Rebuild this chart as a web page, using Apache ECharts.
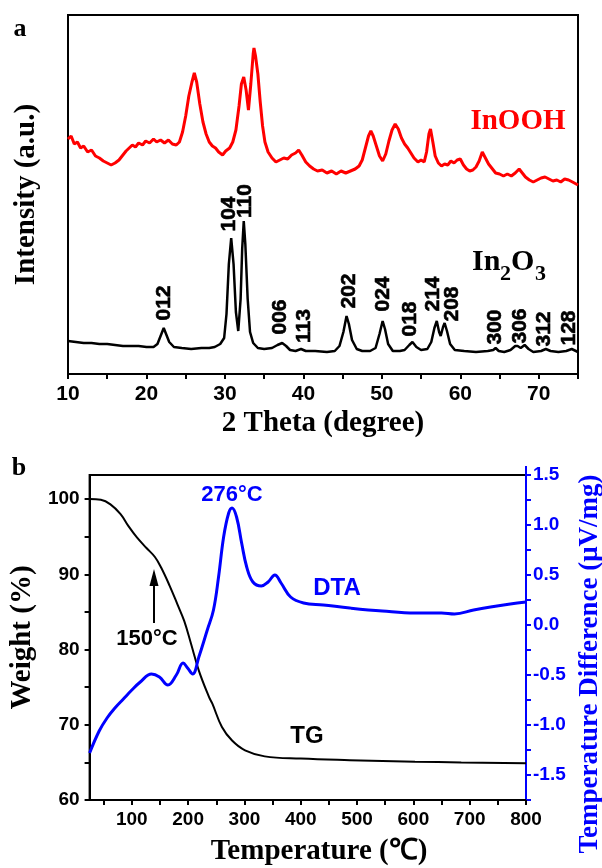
<!DOCTYPE html>
<html>
<head>
<meta charset="utf-8">
<title>XRD and TG-DTA</title>
<script src="https://cdn.jsdelivr.net/npm/echarts@6/dist/echarts.min.js"></script>
<style>
html,body{margin:0;padding:0;background:#fff;}
#main{width:602px;height:868px;}
</style>
</head>
<body>
<div id="main"></div>
<script>
// panel a - XRD (intensity in arbitrary units)
var inoohTheta=[10.0,10.4,10.8,11.2,11.6,12.0,12.5,13.0,13.5,14.0,14.5,15.0,15.5,16.0,16.5,17.0,17.4,17.8,18.2,18.6,19.0,19.5,19.9,20.4,20.9,21.3,21.8,22.3,22.8,23.3,23.8,24.2,24.6,25.0,25.4,25.8,26.1,26.4,26.8,27.2,27.6,28.0,28.4,28.8,29.2,29.7,30.1,30.6,31.0,31.4,31.8,32.1,32.4,32.7,33.0,33.3,33.6,33.7,33.9,34.2,34.5,34.8,35.1,35.5,36.0,36.5,37.0,37.5,38.0,38.5,39.0,39.4,39.8,40.3,40.8,41.3,41.8,42.4,43.0,43.6,44.2,44.8,45.4,46.0,46.6,47.1,47.5,47.9,48.3,48.6,48.9,49.3,49.7,50.1,50.5,50.9,51.3,51.7,52.1,52.5,52.9,53.3,53.7,54.1,54.6,55.0,55.4,55.7,56.0,56.2,56.5,56.8,57.2,57.6,58.0,58.4,58.8,59.2,59.6,60.0,60.4,60.8,61.2,61.6,62.0,62.4,62.8,63.2,63.6,64.0,64.5,65.0,65.5,66.0,66.5,67.0,67.5,67.9,68.3,68.8,69.3,69.8,70.3,70.8,71.3,71.8,72.3,72.8,73.3,73.8,74.3,75.0];
var inoohIntensity=[235,238,230,232,226,228,222,224,218,216,213,211,209,211,214,219,223,226,229,227,231,229,233,231,235,232,234,231,234,230,229,232,242,258,278,292,301,292,270,252,240,232,228,226,222,219,223,226,232,244,268,290,297,284,264,290,320,326,318,300,272,248,232,222,216,212,214,216,215,219,221,224,219,212,208,205,203,204,201,203,200,203,201,203,205,208,214,226,238,243,238,228,218,213,220,233,244,250,245,236,230,226,221,216,212,214,212,222,240,245,232,218,211,208,210,209,213,211,214,215,209,205,203,204,207,213,222,216,210,206,201,200,198,200,198,201,205,201,197,194,192,194,196,197,195,193,194,192,195,194,192,189];

var in2o3Theta=[10.0,11.0,12.0,13.0,14.0,15.0,16.0,17.0,18.0,19.0,20.0,20.9,21.4,21.8,22.2,22.5,22.9,23.5,24.5,25.7,27.0,28.0,28.7,29.4,29.9,30.2,30.5,30.8,31.1,31.4,31.7,32.0,32.2,32.4,32.6,32.9,33.2,33.6,34.2,35.0,36.0,36.7,37.3,37.8,38.3,39.0,39.7,40.3,41.5,43.0,44.0,44.6,45.1,45.5,45.8,46.2,46.8,47.5,48.5,49.2,49.7,50.1,50.4,50.8,51.4,52.3,52.9,53.5,53.9,54.4,55.0,55.8,56.3,56.7,57.0,57.3,57.5,57.8,58.0,58.3,58.7,59.3,60.5,62.0,63.5,64.2,64.5,64.9,65.6,66.4,67.0,67.3,67.7,68.2,68.7,69.3,70.3,70.9,71.5,72.5,73.5,74.2,75.0];
var in2o3Intensity=[33,32,31,31,30,30,29,28,28,28,27,27,30,38,46,40,32,27,26,25,26,26,27,30,36,60,110,136,110,62,43,75,125,153,130,75,42,31,26,25,26,29,31,28,24,23,25,23,23,22,23,28,42,58,50,34,25,23,23,26,40,53,45,30,23,23,24,29,32,27,24,25,32,46,53,42,38,47,51,43,30,24,23,22,23,24,26,23,22,24,28,28,26,29,25,22,23,25,23,22,23,25,22];

var peakNames=['012','104','110','006','113','202','024','018','214','208','300','306','312','128'];
var peakTheta=[22.2,30.5,32.6,37.1,40.1,45.8,50.2,53.6,56.6,59.0,64.4,67.6,70.7,73.9];
var peakLabelAt=[71,160,173,57,48,83,80,55,80,70,47,48,45,46];

var thetaTicks=[10,15,20,25,30,35,40,45,50,55,60,65,70,75];
var thetaLabels=[10,20,30,40,50,60,70];

// panel b - TG / DTA
var tgTemp=[25,45,62,80,94,109,126,141,152,167,181,193,205,219,237,243,260,278,301,336,400,487,603,685,800];
var tgWeight=[100.0,99.9,99.3,98.0,96.4,94.9,93.5,92.3,90.9,88.5,86.0,83.8,80.8,77.2,73.7,72.8,69.7,67.9,66.6,65.8,65.5,65.3,65.1,65.0,64.9];

var dtaTemp=[25,42,56,70,85,100,115,135,149,164,179,191,199,208,219,234,245,254,263,272,278,286,295,304,315,330,342,354,365,382,405,440,487,545,603,650,673,707,737,772,800];
var dtaDiff=[-1.28,-1.06,-0.93,-0.83,-0.74,-0.65,-0.57,-0.49,-0.52,-0.60,-0.50,-0.38,-0.43,-0.49,-0.32,-0.05,0.15,0.48,0.88,1.12,1.17,1.08,0.82,0.58,0.43,0.39,0.43,0.50,0.42,0.28,0.22,0.20,0.17,0.14,0.12,0.12,0.11,0.15,0.18,0.21,0.23];

var tempTicks=[50,100,150,200,250,300,350,400,450,500,550,600,650,700,750,800];
var tempLabels=[100,200,300,400,500,600,700,800];
var weightTicks=[60,65,70,75,80,85,90,95,100];
var weightLabels=[60,70,80,90,100];
var diffTicks=[-1.75,-1.5,-1.25,-1,-0.75,-0.5,-0.25,0,0.25,0.5,0.75,1,1.25,1.5];
var diffLabels=[-1.5,-1,-0.5,0,0.5,1,1.5];

var sans="'Liberation Sans', Arial, sans-serif";
var serif="'Liberation Serif', 'Times New Roman', serif";
var BLUE='#0000ff';

function pairs(xs,ys){
	var out=[];
	for(var i=0;i<xs.length;i++){out.push([xs[i],ys[i]]);}
	return out;
}
function titleStyle(c,size){
	return {fontFamily:serif,fontWeight:'bold',fontSize:size||29,color:c||'#000'};
}

var myChart=echarts.init(document.getElementById('main'),null,{renderer:'canvas'});

var peakData=[];
for(var i=0;i<peakNames.length;i++){
	peakData.push({name:peakNames[i],value:[peakTheta[i],peakLabelAt[i]]});
}

option={
	animation:false,
	backgroundColor:'#fff',
	grid:[
		{left:68,top:15,width:510,height:359,show:true,borderColor:'#000',borderWidth:2},
		{left:82,top:475,width:444,height:325,show:true,borderColor:'#000',borderWidth:2}
	],
	xAxis:[
		{gridIndex:0,type:'value',min:10,max:75,
			axisLine:{onZero:false,lineStyle:{color:'#000',width:2}},
			axisTick:{customValues:thetaTicks,length:5,lineStyle:{color:'#000',width:2}},
			axisLabel:{customValues:thetaLabels,color:'#000',fontFamily:sans,fontWeight:'bold',fontSize:21,margin:10},
			splitLine:{show:false},
			name:'2 Theta (degree)',nameLocation:'middle',nameGap:35,nameTextStyle:titleStyle()
		},
		{gridIndex:1,type:'value',min:25,max:800,
			axisLine:{onZero:false,lineStyle:{color:'#000',width:2}},
			axisTick:{customValues:tempTicks,length:5,lineStyle:{color:'#000',width:2}},
			axisLabel:{customValues:tempLabels,color:'#000',fontFamily:sans,fontWeight:'bold',fontSize:19,margin:10},
			splitLine:{show:false}
		}
	],
	yAxis:[
		{gridIndex:0,type:'value',min:0,max:359,
			axisLine:{show:true,onZero:false,lineStyle:{color:'#000',width:2}},
			axisTick:{show:false},axisLabel:{show:false},splitLine:{show:false},
			name:'Intensity (a.u.)',nameLocation:'middle',nameGap:27,nameTextStyle:titleStyle()
		},
		{gridIndex:1,type:'value',min:60,max:103.2,position:'left',
			axisLine:{show:true,onZero:false,lineStyle:{color:'#000',width:2}},
			axisTick:{customValues:weightTicks,length:5,lineStyle:{color:'#000',width:2}},
			axisLabel:{customValues:weightLabels,color:'#000',fontFamily:sans,fontWeight:'bold',fontSize:19,margin:10},
			splitLine:{show:false},
			name:'Weight (%)',nameLocation:'middle',nameGap:41,nameTextStyle:titleStyle()
		},
		{gridIndex:1,type:'value',min:-1.75,max:1.5,position:'right',
			axisLine:{show:true,onZero:false,lineStyle:{color:BLUE,width:2}},
			axisTick:{customValues:diffTicks,length:5,lineStyle:{color:BLUE,width:2}},
			axisLabel:{customValues:diffLabels,color:BLUE,fontFamily:sans,fontWeight:'bold',fontSize:19,margin:7,
				formatter:function(v){return v.toFixed(1);}},
			splitLine:{show:false}
		}
	],
	graphic:[
		{type:'text',x:20,y:29,style:{text:'a',font:'bold 26px '+serif,fill:'#000',align:'center',verticalAlign:'middle'}},
		{type:'text',x:19,y:468,style:{text:'b',font:'bold 26px '+serif,fill:'#000',align:'center',verticalAlign:'middle'}},
		{type:'text',x:518,y:122,style:{text:'InOOH',font:'bold 29px '+serif,fill:'#ff0000',align:'center',verticalAlign:'middle'}},
		{type:'group',x:472,y:262,children:[
			{type:'text',x:0,y:0,style:{text:'In',font:'bold 30px '+serif,fill:'#000',align:'left',verticalAlign:'middle'}},
			{type:'text',x:28,y:12,style:{text:'2',font:'bold 22px '+serif,fill:'#000',align:'left',verticalAlign:'middle'}},
			{type:'text',x:39,y:0,style:{text:'O',font:'bold 30px '+serif,fill:'#000',align:'left',verticalAlign:'middle'}},
			{type:'text',x:63,y:12,style:{text:'3',font:'bold 22px '+serif,fill:'#000',align:'left',verticalAlign:'middle'}}
		]},
		{type:'text',x:232,y:495,style:{text:'276°C',font:'bold 22px '+sans,fill:BLUE,align:'center',verticalAlign:'middle'}},
		{type:'text',x:337,y:588,style:{text:'DTA',font:'bold 24px '+sans,fill:BLUE,align:'center',verticalAlign:'middle'}},
		{type:'text',x:147,y:639,style:{text:'150°C',font:'bold 22px '+sans,fill:'#000',align:'center',verticalAlign:'middle'}},
		{type:'text',x:307,y:736,style:{text:'TG',font:'bold 24px '+sans,fill:'#000',align:'center',verticalAlign:'middle'}},
		{type:'line',shape:{x1:154,y1:623,x2:154,y2:584},style:{stroke:'#000',lineWidth:2}},
		{type:'polygon',shape:{points:[[154,569],[149.5,586],[158.5,586]]},style:{fill:'#000'}},
		{type:'line',shape:{x1:526,y1:466,x2:526,y2:476},style:{stroke:BLUE,lineWidth:2}},
		{type:'text',x:319,y:852,style:{text:'Temperature (℃)',font:'bold 29px '+serif,fill:'#000',align:'center',verticalAlign:'middle'}},
		{type:'text',x:590,y:664,rotation:Math.PI/2,style:{text:'Temperature Difference (μV/mg)',font:'bold 27px '+serif,fill:BLUE,align:'center',verticalAlign:'middle'}}
	],
	series:[
		{name:'InOOH',type:'line',xAxisIndex:0,yAxisIndex:0,data:pairs(inoohTheta,inoohIntensity),
			symbol:'none',lineStyle:{color:'#ff0000',width:3},silent:true},
		{name:'In2O3',type:'line',xAxisIndex:0,yAxisIndex:0,data:pairs(in2o3Theta,in2o3Intensity),
			symbol:'none',lineStyle:{color:'#000',width:2.5},silent:true},
		{name:'hkl',type:'scatter',xAxisIndex:0,yAxisIndex:0,data:peakData,symbolSize:1,silent:true,
			itemStyle:{color:'rgba(0,0,0,0)'},
			label:{show:true,formatter:'{b}',rotate:90,position:'inside',color:'#000',opacity:1,
				textBorderColor:'#000',textBorderWidth:0.6,
				fontFamily:sans,fontWeight:'bold',fontSize:21}},
		{name:'TG',type:'line',xAxisIndex:1,yAxisIndex:1,data:pairs(tgTemp,tgWeight),smooth:0.4,
			symbol:'none',lineStyle:{color:'#000',width:2},silent:true},
		{name:'DTA',type:'line',xAxisIndex:1,yAxisIndex:2,data:pairs(dtaTemp,dtaDiff),smooth:0.4,
			symbol:'none',lineStyle:{color:BLUE,width:3},silent:true}
	]
};
myChart.setOption(option);
</script>
</body>
</html>
